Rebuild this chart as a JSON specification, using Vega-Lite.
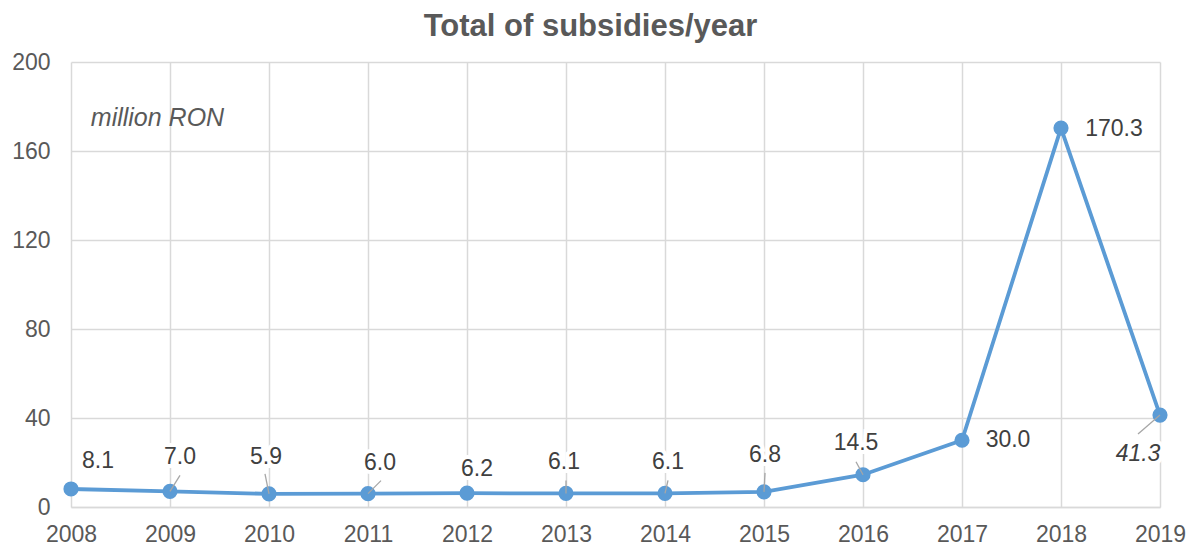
{
  "$schema": "https://vega.github.io/schema/vega-lite/v6.json",
  "width": 1089,
  "height": 445,
  "autosize": {"type": "none"},
  "padding": {"left": 71, "top": 62, "right": 35, "bottom": 42},
  "background": "white",
  "title": {
    "text": "Total of subsidies/year",
    "font": "Liberation Sans",
    "fontSize": 31,
    "fontWeight": "bold",
    "color": "#595959",
    "anchor": "middle",
    "frame": "group",
    "baseline": "bottom",
    "offset": -23,
    "dx": -25
  },
  "config": {
    "view": {"stroke": null},
    "font": "Liberation Sans",
    "text": {"font": "Liberation Sans", "fontSize": 23, "color": "#404040"}
  },
  "data": {
    "values": [
      {"year": 2008, "value": 8.1},
      {"year": 2009, "value": 7.0},
      {"year": 2010, "value": 5.9},
      {"year": 2011, "value": 6.0},
      {"year": 2012, "value": 6.2},
      {"year": 2013, "value": 6.1},
      {"year": 2014, "value": 6.1},
      {"year": 2015, "value": 6.8},
      {"year": 2016, "value": 14.5},
      {"year": 2017, "value": 30.0},
      {"year": 2018, "value": 170.3},
      {"year": 2019, "value": 41.3}
    ]
  },
  "encoding": {
    "x": {
      "field": "year",
      "type": "quantitative",
      "scale": {"domain": [2008, 2019], "nice": false, "zero": false},
      "axis": {
        "title": null,
        "values": [2008, 2009, 2010, 2011, 2012, 2013, 2014, 2015, 2016, 2017, 2018, 2019],
        "format": "d",
        "grid": true,
        "gridColor": "#d9d9d9",
        "gridWidth": 1.5,
        "domain": true,
        "domainColor": "#d9d9d9",
        "domainWidth": 1.5,
        "ticks": false,
        "labelFont": "Liberation Sans",
        "labelFontSize": 23,
        "labelColor": "#595959",
        "labelPadding": 16,
        "labelFlush": false,
        "labelOverlap": false
      }
    },
    "y": {
      "field": "value",
      "type": "quantitative",
      "scale": {"domain": [0, 200], "nice": false},
      "axis": {
        "title": null,
        "values": [0, 40, 80, 120, 160, 200],
        "grid": true,
        "gridColor": "#d9d9d9",
        "gridWidth": 1.5,
        "domain": false,
        "ticks": false,
        "labelFont": "Liberation Sans",
        "labelFontSize": 23,
        "labelColor": "#595959",
        "labelPadding": 21
      }
    }
  },
  "layer": [
    {"transform": [{"filter": "datum.year == 2008"}], "layer": [
      {"mark": {"type": "text", "dx": 27, "dy": -28, "stroke": "white", "strokeWidth": 8, "fill": "white"}, "encoding": {"text": {"field": "value", "format": ".1f"}}},
      {"mark": {"type": "text", "dx": 27, "dy": -28}, "encoding": {"text": {"field": "value", "format": ".1f"}}},
      {"mark": {"type": "text", "align": "left", "baseline": "middle", "fontStyle": "italic", "fontSize": 25, "color": "#595959"}, "encoding": {"x": {"datum": 2008.2}, "y": {"datum": 175}, "text": {"value": "million RON"}}}
    ]},
    {"transform": [{"filter": "datum.year == 2009"}], "layer": [
      {"mark": {"type": "text", "dx": 10, "dy": -34, "stroke": "white", "strokeWidth": 8, "fill": "white"}, "encoding": {"text": {"field": "value", "format": ".1f"}}},
      {"mark": {"type": "text", "dx": 10, "dy": -34}, "encoding": {"text": {"field": "value", "format": ".1f"}}}
    ]},
    {"transform": [{"filter": "datum.year == 2010"}], "layer": [
      {"mark": {"type": "text", "dx": -3, "dy": -37, "stroke": "white", "strokeWidth": 8, "fill": "white"}, "encoding": {"text": {"field": "value", "format": ".1f"}}},
      {"mark": {"type": "text", "dx": -3, "dy": -37}, "encoding": {"text": {"field": "value", "format": ".1f"}}}
    ]},
    {"transform": [{"filter": "datum.year == 2011"}], "layer": [
      {"mark": {"type": "text", "dx": 12, "dy": -31, "stroke": "white", "strokeWidth": 8, "fill": "white"}, "encoding": {"text": {"field": "value", "format": ".1f"}}},
      {"mark": {"type": "text", "dx": 12, "dy": -31}, "encoding": {"text": {"field": "value", "format": ".1f"}}}
    ]},
    {"transform": [{"filter": "datum.year == 2012"}], "layer": [
      {"mark": {"type": "text", "dx": 10, "dy": -24, "stroke": "white", "strokeWidth": 8, "fill": "white"}, "encoding": {"text": {"field": "value", "format": ".1f"}}},
      {"mark": {"type": "text", "dx": 10, "dy": -24}, "encoding": {"text": {"field": "value", "format": ".1f"}}}
    ]},
    {"transform": [{"filter": "datum.year == 2013"}], "layer": [
      {"mark": {"type": "text", "dx": -2, "dy": -31, "stroke": "white", "strokeWidth": 8, "fill": "white"}, "encoding": {"text": {"field": "value", "format": ".1f"}}},
      {"mark": {"type": "text", "dx": -2, "dy": -31}, "encoding": {"text": {"field": "value", "format": ".1f"}}}
    ]},
    {"transform": [{"filter": "datum.year == 2014"}], "layer": [
      {"mark": {"type": "text", "dx": 3, "dy": -31, "stroke": "white", "strokeWidth": 8, "fill": "white"}, "encoding": {"text": {"field": "value", "format": ".1f"}}},
      {"mark": {"type": "text", "dx": 3, "dy": -31}, "encoding": {"text": {"field": "value", "format": ".1f"}}}
    ]},
    {"transform": [{"filter": "datum.year == 2015"}], "layer": [
      {"mark": {"type": "text", "dx": 1, "dy": -37, "stroke": "white", "strokeWidth": 8, "fill": "white"}, "encoding": {"text": {"field": "value", "format": ".1f"}}},
      {"mark": {"type": "text", "dx": 1, "dy": -37}, "encoding": {"text": {"field": "value", "format": ".1f"}}}
    ]},
    {"transform": [{"filter": "datum.year == 2016"}], "layer": [
      {"mark": {"type": "text", "dx": -7, "dy": -32, "stroke": "white", "strokeWidth": 8, "fill": "white"}, "encoding": {"text": {"field": "value", "format": ".1f"}}},
      {"mark": {"type": "text", "dx": -7, "dy": -32}, "encoding": {"text": {"field": "value", "format": ".1f"}}}
    ]},
    {"transform": [{"filter": "datum.year == 2017"}], "layer": [
      {"mark": {"type": "text", "dx": 46, "dy": 0, "stroke": "white", "strokeWidth": 8, "fill": "white"}, "encoding": {"text": {"field": "value", "format": ".1f"}}},
      {"mark": {"type": "text", "dx": 46, "dy": 0}, "encoding": {"text": {"field": "value", "format": ".1f"}}}
    ]},
    {"transform": [{"filter": "datum.year == 2018"}], "layer": [
      {"mark": {"type": "text", "dx": 53, "dy": 1, "stroke": "white", "strokeWidth": 8, "fill": "white"}, "encoding": {"text": {"field": "value", "format": ".1f"}}},
      {"mark": {"type": "text", "dx": 53, "dy": 1}, "encoding": {"text": {"field": "value", "format": ".1f"}}}
    ]},
    {"transform": [{"filter": "datum.year == 2019"}], "layer": [
      {"mark": {"type": "text", "dx": -22, "dy": 39, "fontStyle": "italic", "stroke": "white", "strokeWidth": 8, "fill": "white"}, "encoding": {"text": {"field": "value", "format": ".1f"}}},
      {"mark": {"type": "text", "dx": -22, "dy": 39, "fontStyle": "italic"}, "encoding": {"text": {"field": "value", "format": ".1f"}}}
    ]},
    {"mark": {"type": "line", "color": "#5b9bd5", "strokeWidth": 3.8}},
    {"mark": {"type": "point", "filled": true, "color": "#5b9bd5", "size": 230, "opacity": 1}},
    {"transform": [{"filter": "datum.year == 2009"}], "mark": {"type": "point", "shape": "M0,0L1,-1.6", "size": 400, "filled": false, "stroke": "#a6a6a6", "strokeWidth": 1.3, "opacity": 1}},
    {"transform": [{"filter": "datum.year == 2010"}], "mark": {"type": "point", "shape": "M0,0L-0.4,-2", "size": 400, "filled": false, "stroke": "#a6a6a6", "strokeWidth": 1.3, "opacity": 1}},
    {"transform": [{"filter": "datum.year == 2011"}], "mark": {"type": "point", "shape": "M0,0L1.3,-1.3", "size": 400, "filled": false, "stroke": "#a6a6a6", "strokeWidth": 1.3, "opacity": 1}},
    {"transform": [{"filter": "datum.year == 2013"}], "mark": {"type": "point", "shape": "M0,0L0,-1.3", "size": 400, "filled": false, "stroke": "#a6a6a6", "strokeWidth": 1.3, "opacity": 1}},
    {"transform": [{"filter": "datum.year == 2014"}], "mark": {"type": "point", "shape": "M0,0L0.3,-1.3", "size": 400, "filled": false, "stroke": "#a6a6a6", "strokeWidth": 1.3, "opacity": 1}},
    {"transform": [{"filter": "datum.year == 2015"}], "mark": {"type": "point", "shape": "M0,0L0.1,-1.9", "size": 400, "filled": false, "stroke": "#a6a6a6", "strokeWidth": 1.3, "opacity": 1}},
    {"transform": [{"filter": "datum.year == 2016"}], "mark": {"type": "point", "shape": "M0,0L-0.7,-1.3", "size": 400, "filled": false, "stroke": "#a6a6a6", "strokeWidth": 1.3, "opacity": 1}},
    {"transform": [{"filter": "datum.year == 2019"}], "mark": {"type": "point", "shape": "M0,0L-2.2,1.9", "size": 400, "filled": false, "stroke": "#a6a6a6", "strokeWidth": 1.3, "opacity": 1}}
  ]
}
